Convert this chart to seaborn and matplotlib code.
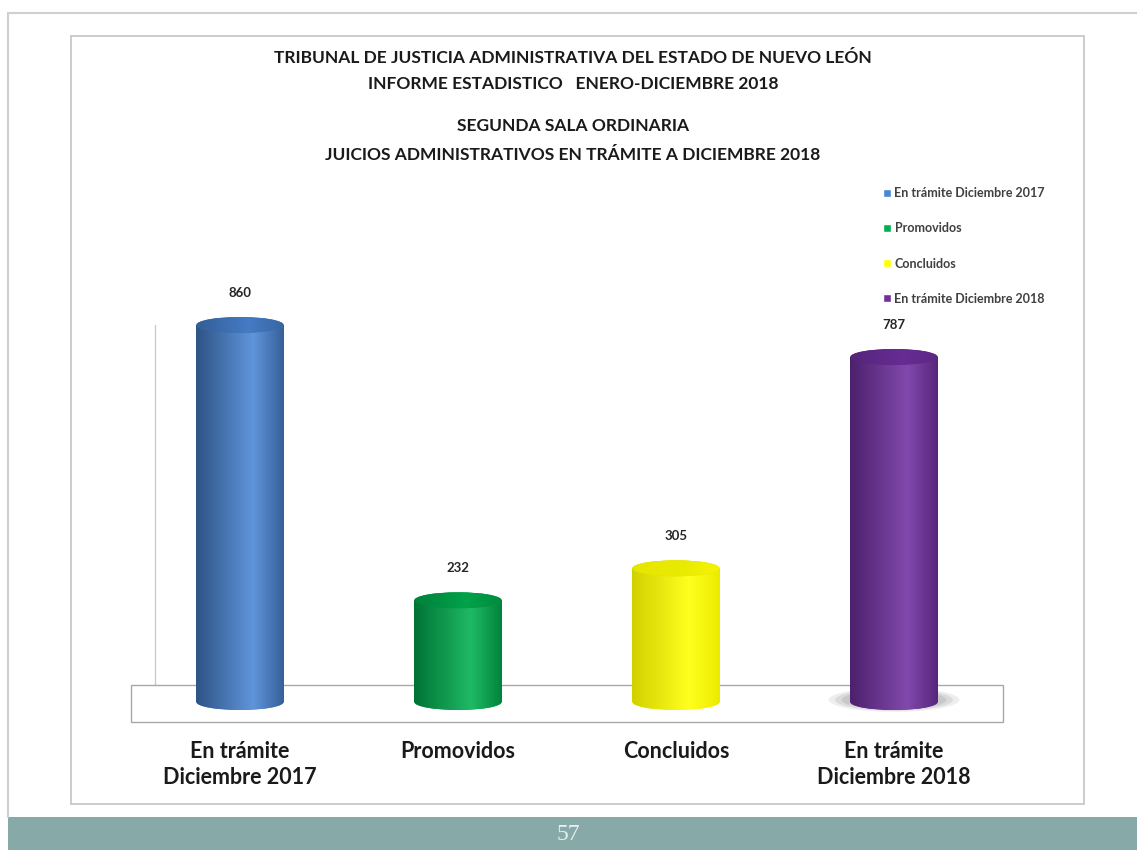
# Cylinder bar chart - Segunda Sala Ordinaria, juicios en trámite 2018
import numpy as np
import pandas as pd
import seaborn as sns
import matplotlib.pyplot as plt
from matplotlib.patches import Ellipse, Rectangle, Patch
from matplotlib.colors import LinearSegmentedColormap, to_rgb

# Data
categories = ['En trámite\nDiciembre 2017', 'Promovidos', 'Concluidos', 'En trámite\nDiciembre 2018']
legend_labels = ['En trámite Diciembre 2017', 'Promovidos', 'Concluidos', 'En trámite Diciembre 2018']
values = [860, 232, 305, 787]
colors = ['#4A86D6', '#00B050', '#FFFF00', '#7030A0']
edge_dark = [0.62, 0.65, 0.82, 0.68]   # how dark the cylinder edges get

title_lines = ['TRIBUNAL DE JUSTICIA ADMINISTRATIVA DEL ESTADO DE NUEVO LEÓN',
               'INFORME ESTADISTICO   ENERO-DICIEMBRE 2018',
               'SEGUNDA SALA ORDINARIA',
               'JUICIOS ADMINISTRATIVOS EN TRÁMITE A DICIEMBRE 2018']
page_number = '57'

sns.set_theme(style='white')
plt.rcParams['font.family'] = ['Lato', 'DejaVu Sans']

W, H = 1137, 850
fig = plt.figure(figsize=(W / 100, H / 100), dpi=100)

# Slide background: borders and footer band (pixel coordinates)
bg = fig.add_axes([0, 0, 1, 1])
bg.set_xlim(0, W)
bg.set_ylim(H, 0)
bg.axis('off')
bg.plot([8, 8], [13, 817], color='#CFCFCF', lw=1.5)
bg.plot([8, W], [13, 13], color='#CFCFCF', lw=1.5)
bg.add_patch(Rectangle((71, 36), 1013, 768, facecolor='white', edgecolor='#C4C4C4', lw=1.2))
bg.add_patch(Rectangle((8, 817), W - 8, H - 817, facecolor='#87AAA9', edgecolor='none'))
bg.text(568, 835, page_number, ha='center', va='center', fontsize=17,
        color='#E4EFEE', family='Liberation Serif')

# Chart area
ax = fig.add_axes([131 / W, (H - 722) / H, 872 / W, 472 / H])
ax.patch.set_alpha(0)

df = pd.DataFrame({'categoria': categories, 'valor': values})
sns.barplot(data=df, x='categoria', y='valor', hue='categoria', palette=colors,
            width=0.4, saturation=1, legend=False, ax=ax)

ymin, ymax = -45.6, 1031
ax.set_xlim(-0.5, 3.5)
ax.set_ylim(ymin, ymax)
ell_h = 36.5  # ellipse height in data units

# Floor and back wall
floor_frac = (722 - 685) / 472
ax.add_patch(Rectangle((0, 0), 1, floor_frac, transform=ax.transAxes, clip_on=False,
                       facecolor='white', edgecolor='#A8A8A8', lw=1, zorder=0.5))
floor_top = ymin + floor_frac * (ymax - ymin)
ax.plot([0.0275, 0.0275], [floor_top, max(values)], transform=ax.get_yaxis_transform(),
        color='#CCCCCC', lw=1, zorder=0.4)


def shade(c, f):
    r = np.array(to_rgb(c))
    return tuple(r * f) if f < 1 else tuple(r + (1 - r) * (f - 1))


grad = np.linspace(0, 1, 256).reshape(1, -1)
for i, (patch, val, col, dk) in enumerate(zip(ax.patches, values, colors, edge_dark)):
    x0 = patch.get_x()
    w = patch.get_width()
    cx = x0 + w / 2
    patch.set_edgecolor('none')
    patch.set_zorder(2)
    cmap = LinearSegmentedColormap.from_list(
        'cyl', [(0, shade(col, dk)), (0.65, shade(col, 1.12)), (1, shade(col, dk + 0.1))])

    if i == len(values) - 1:
        # soft shadow under the last cylinder
        for k, a in zip([1.5, 1.35, 1.2], [0.15, 0.2, 0.25]):
            ax.add_patch(Ellipse((cx, 5), w * k, ell_h * k, facecolor='#909090',
                                 edgecolor='none', alpha=a, zorder=1.5))

    bottom = Ellipse((cx, 0), w, ell_h, facecolor=col, edgecolor='none', zorder=2)
    ax.add_patch(bottom)
    im1 = ax.imshow(grad, cmap=cmap, extent=[x0, x0 + w, -ell_h, 0], aspect='auto', zorder=2.1)
    im1.set_clip_path(bottom)
    im2 = ax.imshow(grad, cmap=cmap, extent=[x0, x0 + w, 0, val], aspect='auto', zorder=2.2)
    im2.set_clip_path(patch)

    top_cmap = LinearSegmentedColormap.from_list(
        'top', [(0, shade(col, dk + 0.08)), (0.6, shade(col, 0.92)), (1, shade(col, dk + 0.14))])
    top = Ellipse((cx, val), w, ell_h, facecolor=shade(col, 0.85), edgecolor='none', zorder=3)
    ax.add_patch(top)
    im3 = ax.imshow(grad, cmap=top_cmap, extent=[x0, x0 + w, val - ell_h / 2, val + ell_h / 2],
                    aspect='auto', zorder=3.1)
    im3.set_clip_path(top)

    ax.annotate(f'{val}', xy=(cx, val), xytext=(0, 23), textcoords='offset points',
                ha='center', va='center', fontsize=9.5, fontweight='bold', color='#262626')

ax.set_xlim(-0.5, 3.5)
ax.set_ylim(ymin, ymax)
ax.set_xlabel('')
ax.set_ylabel('')
ax.set_yticks([])
ax.tick_params(axis='x', length=0, pad=14)
for lab in ax.get_xticklabels():
    lab.set_fontsize(15.5)
    lab.set_fontweight('bold')
    lab.set_linespacing(1.25)
    lab.set_color('#1A1A1A')
sns.despine(ax=ax, left=True, bottom=True)

# Titles
for text, y in zip(title_lines, [58, 84, 126, 155]):
    fig.text(573 / W, 1 - y / H, text, ha='center', va='center',
             fontsize=12.5, fontweight='bold', color='#1A1A1A')

# Legend
handles = [Patch(facecolor=c, label=l) for c, l in zip(colors, legend_labels)]
leg = fig.legend(handles=handles, loc='upper left', bbox_to_anchor=(872 / W, 1 - 176 / H),
                 frameon=False, prop={'size': 9, 'weight': 'bold'}, handlelength=0.6,
                 handleheight=0.6, handletextpad=0.3, labelspacing=1.85)
for t in leg.get_texts():
    t.set_color('#404040')

fig.savefig('out.png', dpi=100)
